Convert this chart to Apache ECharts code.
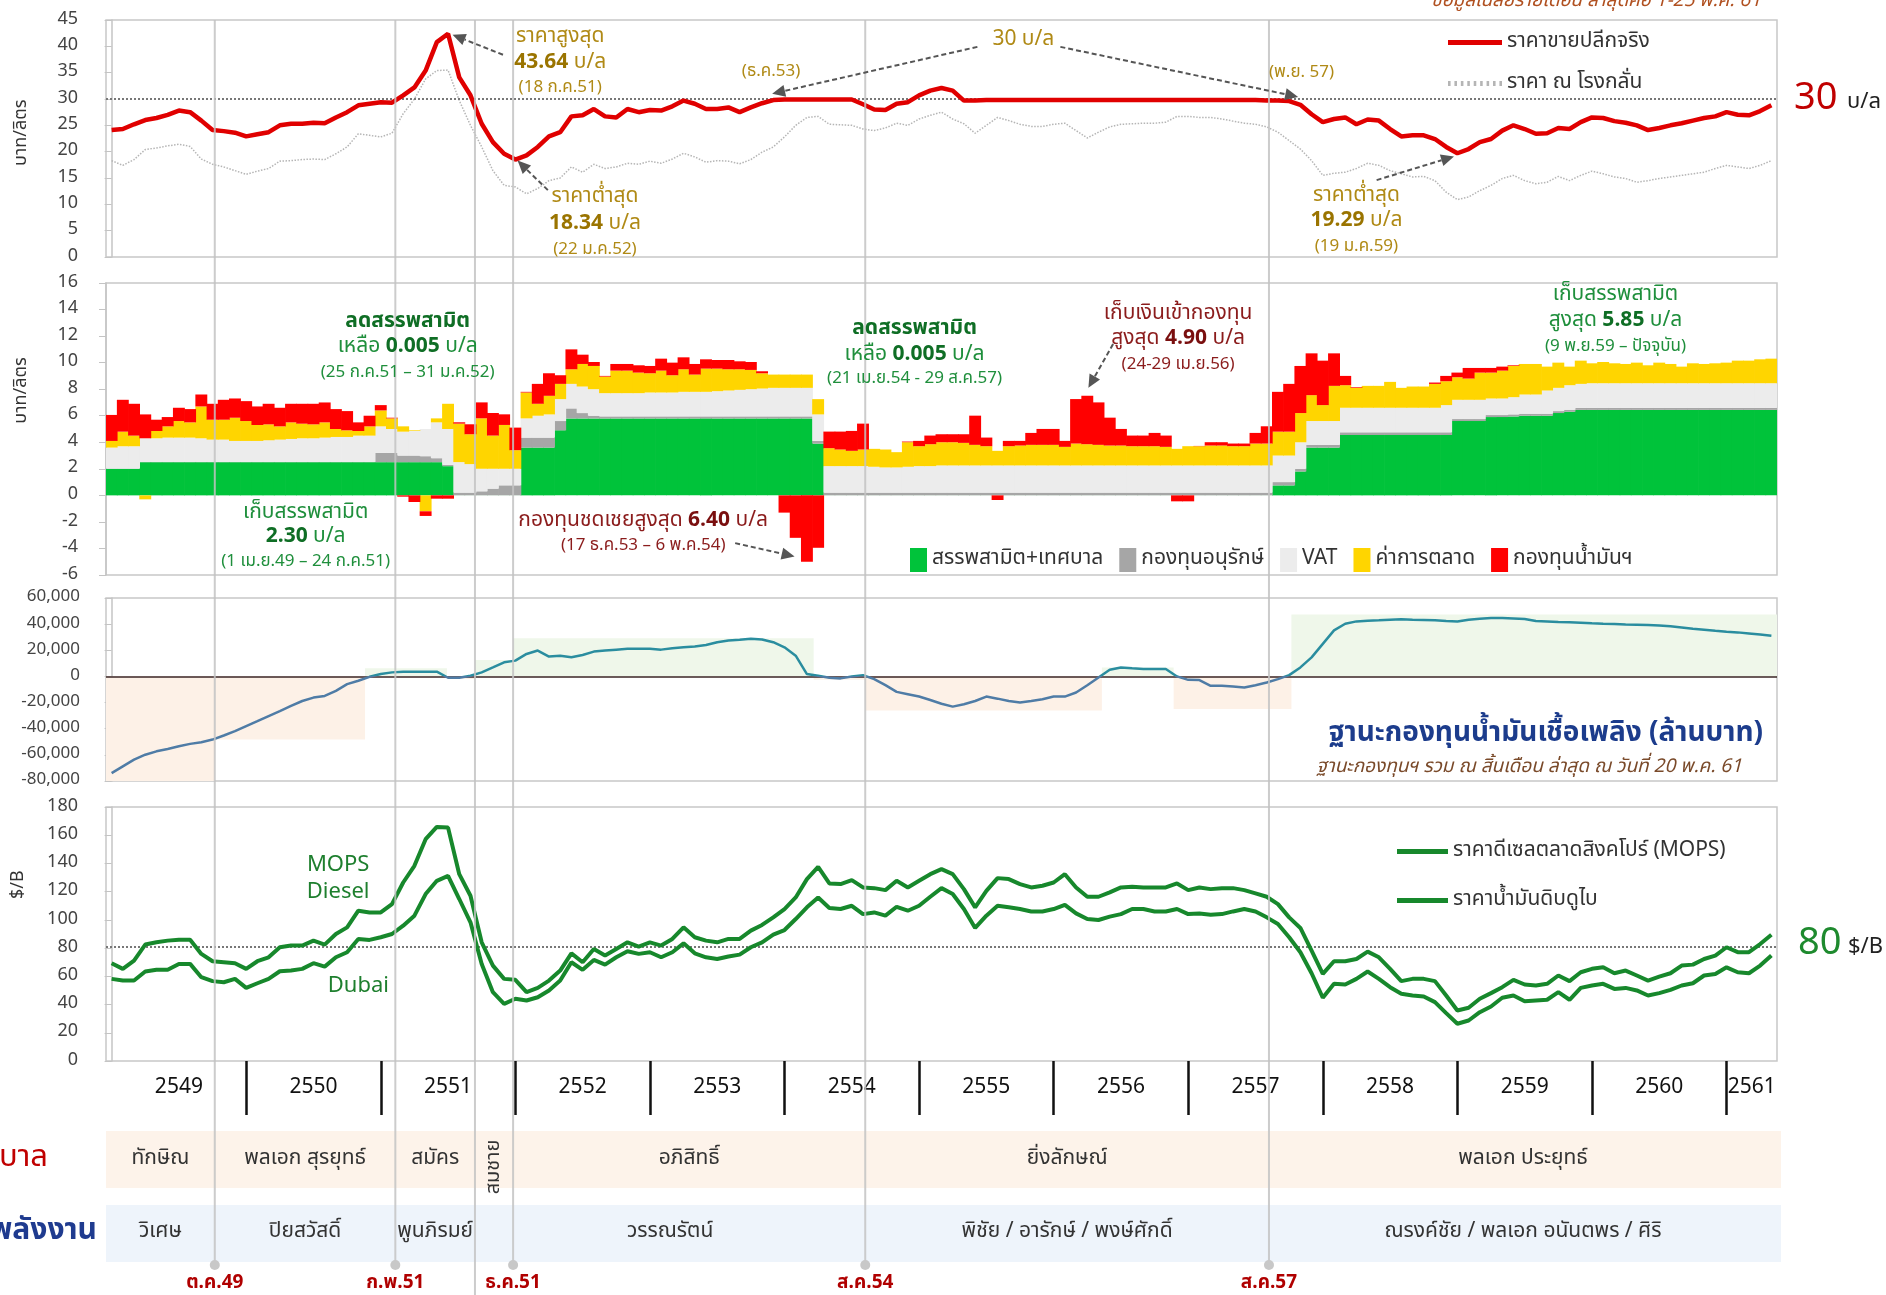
<!DOCTYPE html>
<html><head><meta charset="utf-8">
<script src="https://cdn.jsdelivr.net/npm/echarts@6/dist/echarts.min.js"></script>
<style>html,body{margin:0;padding:0;background:#fff;}#c{width:1886px;height:1295px;}</style>
</head><body><div id="c"></div>
<script>
// ---------- DATA (monthly, index 0 = ม.ค.2549 ... 148 = พ.ค.2561) ----------
const retail = [24.1,24.3,25.2,26.0,26.4,27.0,27.8,27.5,25.9,24.1,
 23.9,23.6,22.9,23.3,23.7,25.0,25.3,25.3,25.5,25.4,
 26.5,27.5,28.8,29.1,29.4,29.3,30.7,32.2,35.4,40.8,
 42.4,34.1,30.7,25.3,21.8,19.6,18.5,19.3,20.9,22.9,
 23.7,26.7,26.9,28.1,26.7,26.5,28.1,27.5,27.9,27.8,
 28.6,29.7,29.1,28.1,28.1,28.4,27.5,28.4,29.2,29.8,
 29.9,29.9,29.9,29.9,29.9,29.9,29.9,29.0,28.0,27.9,
 29.1,29.4,30.7,31.6,32.1,31.6,29.7,29.7,29.8,29.8,
 29.8,29.8,29.8,29.8,29.8,29.8,29.8,29.8,29.8,29.8,
 29.8,29.8,29.8,29.8,29.8,29.8,29.8,29.8,29.8,29.8,
 29.8,29.8,29.8,29.7,29.7,29.6,28.9,27.1,25.6,26.2,
 26.5,25.2,26.1,25.9,24.3,22.9,23.1,23.1,22.4,20.9,
 19.7,20.5,21.8,22.4,24.0,25.0,24.3,23.4,23.5,24.5,
 24.3,25.6,26.5,26.4,25.8,25.5,25.0,24.1,24.5,25.0,
 25.4,25.9,26.4,26.7,27.5,27.0,26.9,27.7,28.8];
const refinery = [18.3,17.4,18.5,20.4,20.7,21.1,21.4,21.0,18.6,17.6,
 17.1,16.4,15.7,16.3,16.8,18.2,18.3,18.5,18.6,18.5,
 19.6,20.9,23.4,23.1,22.8,23.5,27.2,30.0,33.8,35.4,
 35.5,29.7,25.0,20.9,16.4,13.6,13.3,12.0,13.0,14.5,
 15.0,17.1,16.1,17.6,16.8,17.1,17.8,17.6,18.2,17.8,
 18.6,19.7,19.0,18.0,18.3,18.2,17.7,18.5,19.9,20.9,
 22.8,25.0,26.5,26.7,25.2,25.1,25.0,24.3,24.0,24.5,
 25.4,25.0,26.2,26.9,27.5,26.2,25.3,23.5,25.0,26.5,
 25.9,25.2,24.8,24.8,25.2,25.4,24.0,22.6,23.7,24.7,
 25.2,25.3,25.4,25.4,25.6,26.7,26.7,26.5,26.5,26.2,
 25.8,25.4,25.2,24.7,23.7,22.1,20.5,18.3,15.5,15.9,
 16.1,16.8,17.8,17.4,16.4,15.8,15.2,15.3,14.5,12.3,
 10.9,11.4,12.6,13.6,14.9,15.5,14.5,13.9,14.2,15.3,
 14.5,15.5,16.3,15.8,15.2,14.9,14.2,14.5,14.9,15.2,
 15.5,15.8,16.1,16.8,17.4,17.1,16.8,17.4,18.3];
const taxMuni = [2.0,2.0,2.0,2.5,2.5,2.5,2.5,2.5,2.5,2.5,
 2.5,2.5,2.5,2.5,2.5,2.5,2.5,2.5,2.5,2.5,
 2.5,2.5,2.5,2.5,2.5,2.5,2.5,2.5,2.5,2.5,
 2.2,0.005,0.005,0.005,0.005,0.005,0.005,3.6,3.6,3.6,
 4.9,5.8,5.8,5.8,5.8,5.8,5.8,5.8,5.8,5.8,
 5.8,5.8,5.8,5.8,5.8,5.8,5.8,5.8,5.8,5.8,
 5.8,5.8,5.8,3.9,0.005,0.005,0.005,0.005,0.005,0.005,
 0.005,0.005,0.005,0.005,0.005,0.005,0.005,0.005,0.005,0.005,
 0.005,0.005,0.005,0.005,0.005,0.005,0.005,0.005,0.005,0.005,
 0.005,0.005,0.005,0.005,0.005,0.005,0.005,0.005,0.005,0.005,
 0.005,0.005,0.005,0.005,0.75,0.75,1.8,3.6,3.6,3.6,
 4.55,4.55,4.55,4.55,4.55,4.55,4.55,4.55,4.55,4.55,
 5.6,5.6,5.6,5.9,5.9,5.95,6.0,6.0,6.0,6.2,
 6.3,6.44,6.44,6.44,6.44,6.44,6.44,6.44,6.44,6.44,
 6.44,6.44,6.44,6.44,6.44,6.44,6.44,6.44,6.44];
const consFund = [0.02,0.02,0.02,0.02,0.02,0.02,0.02,0.02,0.02,0.02,
 0.02,0.02,0.02,0.02,0.02,0.02,0.02,0.02,0.02,0.02,
 0.02,0.02,0.02,0.02,0.7,0.7,0.5,0.5,0.45,0.3,
 0.1,0.2,0.2,0.3,0.5,0.75,0.75,0.75,0.75,0.75,
 0.7,0.75,0.4,0.2,0.15,0.15,0.15,0.15,0.15,0.15,
 0.15,0.15,0.15,0.15,0.15,0.15,0.15,0.15,0.15,0.15,
 0.15,0.15,0.15,0.2,0.2,0.2,0.2,0.2,0.2,0.2,
 0.2,0.2,0.2,0.2,0.2,0.2,0.2,0.2,0.2,0.2,
 0.2,0.2,0.2,0.2,0.2,0.2,0.2,0.2,0.2,0.2,
 0.2,0.2,0.2,0.2,0.2,0.2,0.2,0.2,0.2,0.2,
 0.2,0.2,0.2,0.2,0.25,0.25,0.2,0.2,0.2,0.2,
 0.2,0.2,0.2,0.2,0.2,0.2,0.2,0.2,0.2,0.2,
 0.15,0.15,0.15,0.15,0.15,0.15,0.15,0.15,0.15,0.15,
 0.15,0.15,0.15,0.15,0.15,0.15,0.15,0.15,0.15,0.15,
 0.15,0.15,0.15,0.15,0.15,0.15,0.15,0.15,0.15];
const vat = [1.58,1.68,1.68,1.78,1.78,1.83,1.83,1.83,1.78,1.68,
 1.68,1.58,1.58,1.58,1.63,1.68,1.73,1.78,1.78,1.83,
 1.88,1.88,1.98,1.98,2.0,1.8,1.8,1.85,2.05,2.7,
 2.7,2.3,2.15,1.7,1.5,1.25,1.25,1.45,1.65,1.75,
 1.65,1.85,2.0,2.0,1.75,1.75,1.75,1.75,1.8,1.8,
 1.8,1.85,1.85,1.85,1.9,1.95,2.0,2.05,2.1,2.15,
 2.15,2.15,2.15,2.0,2.0,2.0,2.0,2.0,1.95,1.9,
 1.9,1.95,2.0,2.0,2.05,2.05,2.05,2.05,2.05,2.05,
 2.05,2.05,2.05,2.05,2.05,2.05,2.05,2.05,2.05,2.05,
 2.05,2.05,2.05,2.05,2.05,2.05,2.05,2.05,2.05,2.05,
 2.05,2.05,2.05,2.05,2.0,2.0,2.0,1.8,1.8,1.8,
 1.85,1.85,1.85,1.85,1.85,1.85,1.85,1.85,1.85,2.05,
 1.45,1.45,1.45,1.25,1.25,1.3,1.45,1.45,1.75,1.75,
 1.85,1.81,1.86,1.86,1.86,1.86,1.86,1.86,1.86,1.86,
 1.86,1.86,1.86,1.86,1.86,1.86,1.86,1.86,1.86];
const margin = [0.5,1.1,0.8,-0.3,0.55,0.85,1.25,1.15,2.4,1.5,
 1.5,1.75,1.5,1.2,1.2,1.0,1.25,1.1,1.05,1.15,
 0.6,0.5,0.35,0.7,1.2,0.8,0.4,0.05,-1.2,0.3,
 1.9,2.9,2.25,3.8,2.5,3.3,1.4,1.95,0.9,1.4,
 1.15,1.1,1.7,1.75,1.25,1.7,1.7,1.55,1.45,1.65,
 1.3,1.7,1.3,1.75,1.7,1.6,1.55,1.45,1.15,1.0,
 1.0,1.0,1.0,1.15,1.35,1.25,1.15,1.25,1.35,1.35,
 1.15,1.85,1.5,1.65,1.75,1.75,1.7,1.55,1.45,1.1,
 1.45,1.5,1.55,1.55,1.55,1.4,1.65,1.6,1.55,1.5,
 1.5,1.45,1.45,1.45,1.4,1.25,1.45,1.45,1.5,1.5,
 1.45,1.45,1.65,1.65,1.8,1.8,2.2,1.95,1.2,2.65,
 1.7,1.5,1.65,1.65,1.95,1.5,1.6,1.6,1.8,1.8,
 1.7,1.6,2.05,1.95,2.1,2.35,2.3,2.3,1.8,1.9,
 1.4,1.75,1.5,1.6,1.5,1.45,1.55,1.35,1.55,1.45,
 1.25,1.5,1.45,1.5,1.55,1.7,1.7,1.8,1.85];
const oilFund = [1.96,2.4,2.4,1.8,0.85,0.7,1.0,1.0,0.9,1.2,
 1.5,1.45,1.5,1.4,1.55,1.4,1.4,1.5,1.55,1.5,
 1.5,1.45,0.65,0.8,0.4,0.05,-0.1,-0.5,-0.35,-0.25,
 -0.25,0.1,0.75,1.2,1.7,0.8,1.7,0.05,1.5,1.7,
 0.65,1.5,0.7,0.3,0.05,0.5,0.5,0.55,0.55,0.9,
 0.95,0.9,0.8,0.7,0.65,0.7,0.6,0.6,0.15,0,
 -1.3,-3.2,-5.0,-3.95,1.25,1.35,1.5,1.95,0,0,
 0,0.05,0.4,0.65,0.6,0.6,0.65,2.2,0.65,-0.35,
 0.4,0.35,0.9,1.2,1.2,0.45,3.35,3.65,3.2,2.1,
 1.25,0.8,0.8,1.0,0.85,-0.45,-0.45,0.02,0.25,0.25,
 0.2,0.2,0.8,1.3,3.0,3.6,3.55,3.15,3.35,2.45,
 0.7,0.05,0,0,0,0,0,0,0.1,0.4,
 0.35,0.8,0.35,0.35,0.3,0.05,0,0,0,0,
 0,0,0,0,0,0,0,0,0,0,
 0,0,0,0,0,0,0,0,0];
const fundPos = [-74000,-68800,-63700,-59900,-57300,-55500,-53400,-51600,-50300,-48300,
 -45200,-41900,-38000,-34200,-30300,-26500,-22600,-18800,-16200,-14900,
 -11000,-5900,-3300,-300,1800,3100,3600,3600,3600,3600,
 -1000,-1000,500,3100,6900,10800,12100,17200,19800,15200,
 15900,14600,16400,19000,19800,20500,21100,21100,21100,20500,
 21600,22300,22900,24100,26200,27500,28000,28800,28300,26200,
 22300,15900,1800,500,-1000,-1500,0,1000,-2100,-6700,
 -11800,-13600,-15400,-18000,-20900,-23100,-21300,-18800,-15400,-17000,
 -18800,-20000,-18800,-17500,-15400,-15400,-12300,-6700,-800,5100,
 6900,6200,5700,5700,5700,0,-2600,-2800,-7200,-7200,
 -7700,-8500,-6700,-4600,-2100,1000,6900,14600,24900,35200,
 40300,42100,42600,42900,43400,43700,43400,43200,42900,42400,
 42100,43400,44200,44700,44700,44400,43900,42400,42100,41600,
 41400,41100,40600,40300,40100,39800,39600,39300,39000,38300,
 37500,36500,35700,34900,34200,33700,32900,32100,31100];
const mops = [69.3,65.3,71.2,82.5,84.1,85.3,86.0,86.0,75.9,70.7,
 70.0,69.3,65.3,70.7,73.5,80.6,81.8,81.8,85.3,82.5,
 90.0,94.7,106.5,105.3,105.3,111.2,126.5,138.3,157.2,165.9,
 165.4,132.4,117.1,84.1,67.6,58.2,57.5,48.8,51.8,57.0,
 64.1,76.3,70.0,79.4,74.7,79.4,84.1,81.1,84.1,81.8,
 86.5,94.7,87.7,85.3,84.1,86.5,86.5,92.4,96.4,101.8,
 107.7,115.9,128.9,137.6,125.8,125.4,128.2,123.0,122.5,121.1,
 127.7,123.0,127.7,132.4,136.0,132.4,121.8,108.9,120.6,129.6,
 128.9,125.4,123.0,124.2,126.5,132.4,123.0,116.4,116.4,119.5,
 123.0,123.5,123.0,123.0,123.0,125.8,121.1,123.0,121.8,122.5,
 122.5,121.1,118.8,116.4,111.2,101.8,94.3,78.2,61.7,70.7,
 70.7,72.3,77.5,73.5,65.3,56.6,58.2,58.2,56.6,46.4,
 35.8,37.7,44.1,48.1,52.3,57.5,54.2,53.5,54.7,60.6,
 56.6,62.9,65.3,66.4,62.2,64.1,60.6,57.0,59.8,62.2,
 67.6,68.3,72.3,74.7,80.6,77.1,77.1,82.9,89.5];
const dubai = [58.2,57.0,57.0,63.4,64.6,64.6,68.8,68.8,59.4,56.6,
 55.8,58.2,51.8,55.1,58.2,63.6,64.1,65.3,69.3,66.9,
 73.5,77.1,86.5,85.8,87.7,90.0,95.9,103.0,118.3,127.7,
 131.2,114.8,98.3,68.8,48.8,40.5,44.1,42.9,45.2,50.0,
 57.0,70.0,64.6,71.6,68.3,73.5,77.8,75.9,77.1,73.5,
 77.1,83.4,76.3,73.5,72.3,74.0,75.4,80.6,84.1,89.5,
 92.8,100.6,108.9,115.9,108.4,107.7,110.0,104.1,105.3,103.0,
 109.3,106.5,110.0,116.4,122.5,118.3,107.7,94.3,103.0,110.0,
 108.9,107.7,106.0,106.0,107.7,110.7,104.6,100.6,99.9,102.3,
 104.1,107.7,107.7,106.0,106.0,107.7,104.1,104.6,103.7,104.1,
 106.0,107.7,106.0,101.8,97.1,87.7,77.1,62.2,44.8,54.7,
 54.2,58.2,63.4,58.2,52.3,47.6,46.4,45.7,41.7,33.9,
 26.4,28.7,34.6,38.6,44.8,46.4,42.4,42.9,43.4,48.8,
 43.4,51.8,53.5,54.7,51.1,51.8,50.0,46.4,48.1,50.4,
 53.5,55.1,60.6,61.7,66.4,62.9,62.2,67.6,74.7];
const years = ['2549','2550','2551','2552','2553','2554','2555','2556','2557','2558','2559','2560','2561'];
// fund shading (start month, end month, extreme value)
const shadeStart = [-0.5, 9.2, 22.6, 29.9, 32.4, 35.8, 62.6, 67.2, 88.3, 94.7, 105.2];
const shadeEnd   = [9.2, 22.6, 29.9, 32.4, 35.8, 62.6, 67.2, 88.3, 94.7, 105.2, 148.5];
const shadeLimit = [-80000, -48300, 6200, -2000, 12600, 29300, -2500, -26000, 6900, -25000, 47300];
// events
const markerMonths = [9.2, 25.3, 32.4, 35.8, 67.2, 103.2];
const markerLabels = ['ต.ค.49', 'ก.พ.51', '', 'ธ.ค.51', 'ส.ค.54', 'ส.ค.57'];
const govNames = ['ทักษิณ','พลเอก สุรยุทธ์','สมัคร','สมชาย','อภิสิทธิ์','ยิ่งลักษณ์','พลเอก ประยุทธ์'];
const govBounds = [-0.5, 9.2, 25.3, 32.4, 35.8, 67.2, 103.2, 148.5];
const ministerNames = ['วิเศษ','ปิยสวัสดิ์','พูนภิรมย์','วรรณรัตน์','พิชัย / อารักษ์ / พงษ์ศักดิ์','ณรงค์ชัย / พลเอก อนันตพร / ศิริ'];
const ministerBounds = [-0.5, 9.2, 25.3, 32.4, 67.2, 103.2, 148.5];

// ---------- CHART ----------
const FF = '"Noto Sans Thai","Noto Sans Thai UI","Loma","Garuda","Tahoma","DejaVu Sans","Noto Sans",sans-serif';
const XMIN = -0.5, XMAX = 148.5;
const pairs = a => a.map((v, i) => [i, v]);
const monthCats = retail.map((_, i) => String(i));
const GL = 106, GW = 1671;
const BW = GW / monthCats.length + 0.7;

const yearBounds = years.slice(1).map((_, i) => (i + 1) * 12);
const yearMids = years.map((_, i) => (Math.max(XMIN, i * 12) + Math.min(XMAX, i * 12 + 12)) / 2);

const chart = echarts.init(document.getElementById('c'), null, {renderer: 'canvas'});
const yBase = {
  type: 'value', splitLine: {show: false},
  axisLine: {show: true, lineStyle: {color: '#c4c4c4', width: 1.5}},
  axisTick: {show: true, length: 7, lineStyle: {color: '#c4c4c4'}},
  axisLabel: {color: '#444', fontSize: 18, margin: 28, fontFamily: FF}
};
const xBase = {type: 'value', min: XMIN, max: XMAX, show: false};
const gridBase = {show: true, borderColor: '#c8c8c8', borderWidth: 1.5, left: GL, width: GW};

const barS = (name, arr, color) => ({
  name, type: 'bar', xAxisIndex: 1, yAxisIndex: 1, stack: 'cost', data: arr,
  barWidth: BW, itemStyle: {color, borderWidth: 0}
});
const fundGrad = new echarts.graphic.LinearGradient(0, 598, 0, 781, [
  {offset: 0, color: '#2a8d9f'}, {offset: 60 / 140, color: '#2a8d9f'},
  {offset: 60 / 140, color: '#4f7ca6'}, {offset: 1, color: '#4f7ca6'}], true);

chart.setOption({
  animation: false,
  textStyle: {fontFamily: FF},
  grid: [
    Object.assign({top: 20, height: 237}, gridBase),
    Object.assign({top: 283, height: 292}, gridBase),
    Object.assign({top: 598, height: 183}, gridBase),
    Object.assign({top: 807, height: 254}, gridBase)
  ],
  xAxis: [
    Object.assign({gridIndex: 0}, xBase),
    {gridIndex: 1, type: 'category', data: monthCats, boundaryGap: true, show: false},
    Object.assign({gridIndex: 2}, xBase),
    {gridIndex: 3, type: 'value', min: XMIN, max: XMAX, splitLine: {show: false},
     axisLine: {show: false},
     axisTick: {show: true, customValues: yearBounds, length: 54, lineStyle: {color: '#111', width: 2.5}},
     axisLabel: {customValues: yearMids, fontSize: 21, color: '#111', margin: 17, fontFamily: FF,
       formatter: v => years[Math.min(years.length - 1, Math.floor(v / 12))]}}
  ],
  yAxis: [
    Object.assign({}, yBase, {gridIndex: 0, min: 0, max: 45, interval: 5}),
    Object.assign({}, yBase, {gridIndex: 1, min: -6, max: 16, interval: 2}),
    Object.assign({}, yBase, {gridIndex: 2, min: -80000, max: 60000, interval: 20000,
      axisLabel: Object.assign({}, yBase.axisLabel, {fontSize: 17, margin: 26, formatter: v => v.toLocaleString('en-US')})}),
    Object.assign({}, yBase, {gridIndex: 3, min: 0, max: 180, interval: 20})
  ],
  legend: [
    {data: [{name: 'ราคาขายปลีกจริง', icon: 'rect'},
            {name: 'ราคา ณ โรงกลั่น', icon: 'path://M0,0h2v2h-2zM5,0h2v2h-2zM10,0h2v2h-2zM15,0h2v2h-2zM20,0h2v2h-2zM25,0h2v2h-2zM30,0h2v2h-2zM35,0h2v2h-2zM40,0h2v2h-2z'}],
     orient: 'vertical', left: 1443, top: 27, symbolKeepAspect: false,
     itemWidth: 54, itemHeight: 5, itemGap: 20, selectedMode: false,
     textStyle: {fontSize: 21, color: '#333', fontFamily: FF}},
    {data: ['สรรพสามิต+เทศบาล', 'กองทุนอนุรักษ์', 'VAT', 'ค่าการตลาด', 'กองทุนน้ำมันฯ'], left: 905, top: 543,
     icon: 'rect', itemWidth: 17, itemHeight: 24, itemGap: 16, selectedMode: false,
     textStyle: {fontSize: 21, color: '#333', fontFamily: FF}},
    {data: [{name: 'ราคาดีเซลตลาดสิงคโปร์ (MOPS)', icon: 'rect'}, {name: 'ราคาน้ำมันดิบดูไบ', icon: 'rect'}],
     orient: 'vertical', left: 1392, top: 836, symbolKeepAspect: false,
     itemWidth: 51, itemHeight: 5, itemGap: 28, selectedMode: false,
     textStyle: {fontSize: 21, color: '#333', fontFamily: FF}}
  ],
  series: [
    {name: 'ราคาขายปลีกจริง', type: 'line', xAxisIndex: 0, yAxisIndex: 0, data: pairs(retail), symbol: 'none', z: 5,
     lineStyle: {color: '#e00000', width: 4.5}, itemStyle: {color: '#e00000'},
     markLine: {silent: true, symbol: 'none', label: {show: false}, data: [{yAxis: 30}],
       lineStyle: {type: 'dotted', color: '#777', width: 2}}},
    {name: 'ราคา ณ โรงกลั่น', type: 'line', xAxisIndex: 0, yAxisIndex: 0, data: pairs(refinery), symbol: 'none', z: 4,
     lineStyle: {color: '#b5b5b5', width: 1.5, type: 'dotted'}, itemStyle: {color: '#b5b5b5'}},
    barS('สรรพสามิต+เทศบาล', taxMuni, '#00c33a'),
    barS('กองทุนอนุรักษ์', consFund, '#a6a6a6'),
    barS('VAT', vat, '#ececec'),
    barS('ค่าการตลาด', margin, '#ffd500'),
    barS('กองทุนน้ำมันฯ', oilFund, '#ff0000'),
    {name: 'ฐานะกองทุน', type: 'line', xAxisIndex: 2, yAxisIndex: 2, data: pairs(fundPos), symbol: 'none', z: 5,
     lineStyle: {width: 2.5, color: fundGrad}, itemStyle: {color: '#2a8d9f'},
     markLine: {silent: true, symbol: 'none', label: {show: false}, data: [{yAxis: 0}],
       lineStyle: {type: 'solid', color: '#3a2424', width: 1.5}},
     markArea: {silent: true, data: shadeStart.map((s, i) => [
       {xAxis: s, yAxis: 0, itemStyle: {color: shadeLimit[i] < 0 ? '#fdf1e7' : '#eff7ea'}},
       {xAxis: shadeEnd[i], yAxis: shadeLimit[i]}])}},
    {name: 'ราคาดีเซลตลาดสิงคโปร์ (MOPS)', type: 'line', xAxisIndex: 3, yAxisIndex: 3, data: pairs(mops), symbol: 'none', z: 5,
     lineStyle: {color: '#17882c', width: 4}, itemStyle: {color: '#17882c'},
     markLine: {silent: true, symbol: 'none', label: {show: false}, data: [{yAxis: 81}],
       lineStyle: {type: 'dotted', color: '#777', width: 2}}},
    {name: 'ราคาน้ำมันดิบดูไบ', type: 'line', xAxisIndex: 3, yAxisIndex: 3, data: pairs(dubai), symbol: 'none', z: 5,
     lineStyle: {color: '#17882c', width: 4}, itemStyle: {color: '#17882c'}}
  ]
});

// ---------- ANNOTATIONS / OVERLAYS ----------
// x through the month value axis (same scale on every panel), y through the panel's own y axis
const P = (g, m, v) => [chart.convertToPixel({xAxisIndex: 0}, m), chart.convertToPixel({yAxisIndex: g}, v)];
const RICH = {
  n: {fill: '#b08a16', fontSize: 21, fontFamily: FF},
  b: {fill: '#9a7400', fontSize: 21, fontWeight: 'bold', fontFamily: FF},
  s: {fill: '#b08a16', fontSize: 17, fontFamily: FF},
  g: {fill: '#1f8f3c', fontSize: 21, fontFamily: FF},
  gb: {fill: '#0f6e25', fontSize: 21, fontWeight: 'bold', fontFamily: FF},
  gs: {fill: '#1f8f3c', fontSize: 17, fontFamily: FF},
  r: {fill: '#8b1c1c', fontSize: 21, fontFamily: FF},
  rb: {fill: '#7a0f0f', fontSize: 21, fontWeight: 'bold', fontFamily: FF},
  rs: {fill: '#8b1c1c', fontSize: 17, fontFamily: FF},
  G: {fill: '#1e7f2e', fontSize: 22, fontFamily: FF}
};
const els = [];
const txt = (x, y, text, extra) => els.push(Object.assign({type: 'text', x, y, z: 60,
  style: Object.assign({text, rich: RICH, align: 'center', verticalAlign: 'middle', fontFamily: FF}, extra || {})}));
const vtxt = (x, y, text, extra) => els.push({type: 'text', x, y, z: 60, rotation: Math.PI / 2,
  style: Object.assign({text, align: 'center', verticalAlign: 'middle', fontFamily: FF, fill: '#333', fontSize: 18}, extra || {})});

// axis names
const xName = P(0, XMIN, 0)[0] - 84;
vtxt(xName, P(0, 0, 23.6)[1], 'บาท/ลิตร');
vtxt(xName, P(1, 0, 7.9)[1], 'บาท/ลิตร');
vtxt(xName - 3, P(3, 0, 125)[1], '$/B');

const annots = [
  [0, 40.0, [[41.6, '{n|ราคาสูงสุด}'], [36.7, '{b|43.64}{n| บ/ล}'], [32.0, '{s|(18 ก.ค.51)}']]],
  [0, 43.1, [[11.2, '{n|ราคาต่ำสุด}'], [6.1, '{b|18.34}{n| บ/ล}'], [1.3, '{s|(22 ม.ค.52)}']]],
  [0, 58.8, [[35.0, '{s|(ธ.ค.53)}']]],
  [0, 81.3, [[41.0, '{n|30 บ/ล}']]],
  [0, 106.1, [[34.8, '{s|(พ.ย. 57)}']]],
  [0, 111.0, [[11.5, '{n|ราคาต่ำสุด}'], [6.6, '{b|19.29}{n| บ/ล}'], [1.7, '{s|(19 ม.ค.59)}']]],
  [1, 26.4, [[13.0, '{gb|ลดสรรพสามิต}'], [11.1, '{g|เหลือ }{gb|0.005}{g| บ/ล}'], [9.2, '{gs|(25 ก.ค.51 – 31 ม.ค.52)}']]],
  [1, 17.3, [[-1.36, '{g|เก็บสรรพสามิต}'], [-3.2, '{gb|2.30}{g| บ/ล}'], [-5.05, '{gs|(1 เม.ย.49 – 24 ก.ค.51)}']]],
  [1, 71.6, [[12.5, '{gb|ลดสรรพสามิต}'], [10.5, '{g|เหลือ }{gb|0.005}{g| บ/ล}'], [8.7, '{gs|(21 เม.ย.54 - 29 ส.ค.57)}']]],
  [1, 47.4, [[-1.96, '{r|กองทุนชดเชยสูงสุด }{rb|6.40}{r| บ/ล}'], [-3.84, '{rs|(17 ธ.ค.53 – 6 พ.ค.54)}']]],
  [1, 95.1, [[13.6, '{r|เก็บเงินเข้ากองทุน}'], [11.76, '{r|สูงสุด }{rb|4.90}{r| บ/ล}'], [9.8, '{rs|(24-29 เม.ย.56)}']]],
  [1, 134.1, [[15.07, '{g|เก็บสรรพสามิต}'], [13.1, '{g|สูงสุด }{gb|5.85}{g| บ/ล}'], [11.15, '{gs|(9 พ.ย.59 – ปัจจุบัน)}']]],
  [3, 20.2, [[138, '{G|MOPS}'], [118.4, '{G|Diesel}']]],
  [3, 22.0, [[51.7, '{G|Dubai}']]]
];
annots.forEach(([g, m, lines]) => lines.forEach(([v, t]) => { const p = P(g, m, v); txt(p[0], p[1], t); }));

const arrows = [
  [0, [34.9, 38.4], [30.4, 42.2]], [0, [38.9, 12.7], [36.2, 18.3]],
  [0, [77.2, 39.9], [58.9, 31.0]], [0, [84.6, 39.9], [105.8, 30.4]],
  [0, [112.8, 14.6], [119.7, 19.1]],
  [1, [55.6, -3.6], [60.9, -4.6]], [1, [89.3, 11.4], [87.1, 8.1]]
];
arrows.forEach(([g, a, b]) => {
  const p1 = P(g, a[0], a[1]), p2 = P(g, b[0], b[1]);
  const ang = Math.atan2(p2[1] - p1[1], p2[0] - p1[0]);
  const L = 13, W = 6;
  const bx = p2[0] - L * Math.cos(ang), by = p2[1] - L * Math.sin(ang);
  const nx = -Math.sin(ang) * W, ny = Math.cos(ang) * W;
  els.push({type: 'line', z: 60, shape: {x1: p1[0], y1: p1[1], x2: bx, y2: by}, style: {stroke: '#555', lineWidth: 2, lineDash: [5, 3]}});
  els.push({type: 'polygon', z: 60, shape: {points: [[p2[0], p2[1]], [bx + nx, by + ny], [bx - nx, by - ny]]}, style: {fill: '#555'}});
});

// right-hand reference labels
const r30 = P(0, XMAX, 30), r80 = P(3, XMAX, 81);
txt(r30[0] + 17, r30[1] + 2, '30', {align: 'left', fill: '#c00000', fontSize: 38});
txt(r30[0] + 70, r30[1] + 5, 'บ/ล', {align: 'left', fill: '#222', fontSize: 22});
txt(r80[0] + 21, r80[1], '80', {align: 'left', fill: '#1e8a2e', fontSize: 38});
txt(r80[0] + 71, r80[1] + 2, '$/B', {align: 'left', fill: '#222', fontSize: 22});
// notes
txt(1761, 2, 'ข้อมูลเฉลี่ยรายเดือน ล่าสุดคือ 1-25 พ.ค. 61', {align: 'right', fill: '#b05020', fontSize: 19, fontStyle: 'italic'});
txt(1763, 735, 'ฐานะกองทุนน้ำมันเชื้อเพลิง (ล้านบาท)', {align: 'right', fill: '#1c3c8c', fontSize: 28, fontWeight: 'bold'});
txt(1742, 768, 'ฐานะกองทุนฯ รวม ณ สิ้นเดือน ล่าสุด ณ วันที่ 20 พ.ค. 61', {align: 'right', fill: '#7a4a2a', fontSize: 19, fontStyle: 'italic'});

// government / minister rows
const xL = P(3, XMIN, 0)[0], xR = P(3, XMAX, 0)[0] + 4;
els.push({type: 'rect', z: 1, shape: {x: xL, y: 1131, width: xR - xL, height: 57}, style: {fill: '#fdf3ea'}});
els.push({type: 'rect', z: 1, shape: {x: xL, y: 1205, width: xR - xL, height: 57}, style: {fill: '#eef4fb'}});
txt(48, 1160, 'รัฐบาล', {align: 'right', fill: '#c00000', fontSize: 31});
txt(97, 1233, 'รมว.พลังงาน', {align: 'right', fill: '#1f3b8f', fontSize: 30, fontWeight: 'bold'});
govNames.forEach((n, i) => {
  const cx = P(3, (govBounds[i] + govBounds[i + 1]) / 2, 0)[0];
  if (n === 'สมชาย') vtxt(cx + 1, 1167, n, {fontSize: 20});
  else txt(cx, 1160, n, {fill: '#333', fontSize: 21});
});
ministerNames.forEach((n, i) => {
  const cx = P(3, (ministerBounds[i] + ministerBounds[i + 1]) / 2, 0)[0];
  txt(cx, 1233, n, {fill: '#333', fontSize: 21});
});

// event marker lines
const yTop = P(0, 0, 45)[1];
markerMonths.forEach((m, i) => {
  const x = P(3, m, 0)[0];
  const yEnd = markerLabels[i] ? 1265 : 1295;
  els.push({type: 'line', z: 55, shape: {x1: x, y1: yTop, x2: x, y2: yEnd}, style: {stroke: 'rgba(195,195,195,0.85)', lineWidth: 2}});
  if (markerLabels[i]) {
    els.push({type: 'circle', z: 56, shape: {cx: x, cy: 1265, r: 5}, style: {fill: '#c8c8c8'}});
    txt(x, 1284, markerLabels[i], {fill: '#b00000', fontSize: 19, fontWeight: 'bold'});
  }
});

chart.setOption({graphic: els});
</script></body></html>
